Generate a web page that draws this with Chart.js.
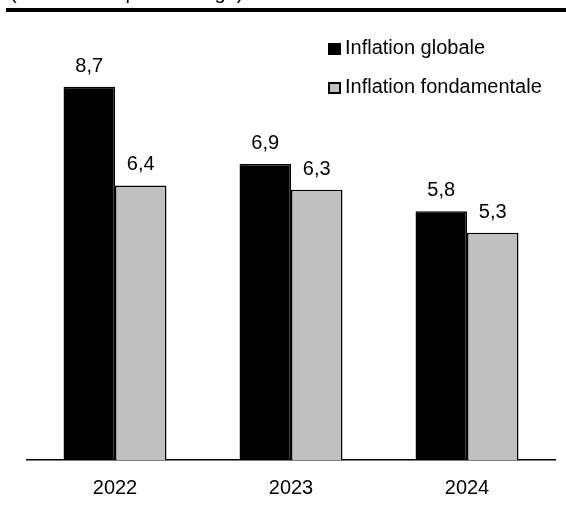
<!DOCTYPE html>
<html>
<head>
<meta charset="utf-8">
<script src="https://cdn.jsdelivr.net/npm/chart.js@4"></script>
<style>
  html, body { margin: 0; padding: 0; background: #fff; width: 566px; height: 506px; overflow: hidden; }
  body { position: relative; font-family: "Liberation Sans", Arial, sans-serif; }
  #wrap { position: absolute; left: 0; top: 0; width: 566px; height: 523px; }
  #title { position: absolute; left: 10px; top: -18px; font-size: 20px; line-height: 20px; color: #000; white-space: nowrap; }
  #rule { position: absolute; left: 6px; top: 8px; width: 560px; height: 4px; background: #000; }
  .leg { position: absolute; left: 328px; font-size: 20px; line-height: 20px; color: #000; white-space: nowrap; }
  .leg .box { display: inline-block; box-sizing: border-box; width: 13px; height: 12px; border: 2px solid #000; margin-right: 4px; vertical-align: -1px; }
</style>
</head>
<body>
<div id="wrap"><canvas id="c" width="566" height="523"></canvas></div>
<div id="title">(variation en pourcentage)</div>
<div id="rule"></div>
<div id="legend"></div>
<script>
const categories = ["2022", "2023", "2024"];
const seriesNames = ["Inflation globale", "Inflation fondamentale"];
const inflationGlobale = [8.7, 6.9, 5.8];
const inflationFondamentale = [6.4, 6.3, 5.3];
const seriesColors = ["#000000", "#c0c0c0"];

const FONT = '"Liberation Sans", Arial, sans-serif';

// HTML legend built from series names/colours
const legend = document.getElementById('legend');
const legendTops = [37, 76];
seriesNames.forEach((name, i) => {
  const d = document.createElement('div');
  d.className = 'leg';
  d.style.top = legendTops[i] + 'px';
  const b = document.createElement('span');
  b.className = 'box';
  b.style.background = seriesColors[i];
  d.appendChild(b);
  d.appendChild(document.createTextNode(name));
  legend.appendChild(d);
});

const valueLabels = {
  id: 'valueLabels',
  afterDatasetsDraw(chart) {
    const ctx = chart.ctx;
    ctx.save();
    ctx.font = '20px ' + FONT;
    ctx.fillStyle = '#000';
    ctx.textAlign = 'center';
    ctx.textBaseline = 'alphabetic';
    chart.data.datasets.forEach((ds, di) => {
      const meta = chart.getDatasetMeta(di);
      meta.data.forEach((el, i) => {
        const txt = ds.data[i].toFixed(1).replace('.', ',');
        ctx.fillText(txt, el.x, el.y - 15);
      });
    });
    ctx.restore();
  }
};

new Chart(document.getElementById('c'), {
  type: 'bar',
  data: {
    labels: categories,
    datasets: [
      { label: seriesNames[0], data: inflationGlobale, backgroundColor: seriesColors[0], borderColor: '#000', borderWidth: 1.5 },
      { label: seriesNames[1], data: inflationFondamentale, backgroundColor: seriesColors[1], borderColor: '#000', borderWidth: 1.5 }
    ]
  },
  options: {
    responsive: false,
    animation: false,
    devicePixelRatio: 1,
    layout: { padding: { left: 27, right: 11, top: 31, bottom: 7 } },
    plugins: { legend: { display: false }, tooltip: { enabled: false } },
    datasets: { bar: { categoryPercentage: 0.585, barPercentage: 1.0 } },
    scales: {
      x: {
        grid: { display: false, drawTicks: false },
        border: { display: true, color: '#000', width: 1.5 },
        ticks: { color: '#000', font: { family: FONT, size: 20 }, padding: 16, maxRotation: 0 }
      },
      y: {
        display: false,
        min: 0,
        max: 10
      }
    }
  },
  plugins: [valueLabels]
});
</script>
</body>
</html>
